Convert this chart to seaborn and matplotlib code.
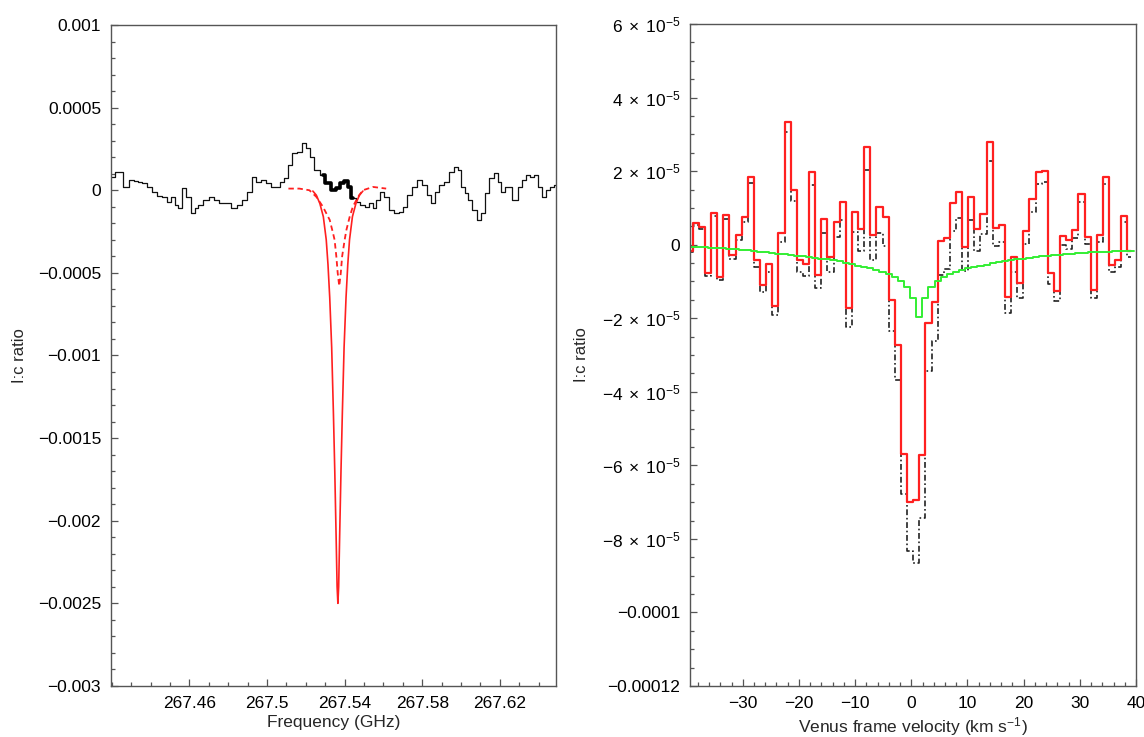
import numpy as np
import pandas as pd
import matplotlib
matplotlib.use("Agg")
import matplotlib.pyplot as plt
import seaborn as sns
from matplotlib.ticker import FixedLocator, FixedFormatter, MultipleLocator

# ---- left panel: observed spectrum (frequency in GHz, line:continuum in units of 1e-4)
SPEC_GHZ = [
    267.4190, 267.4241, 267.4276, 267.4302, 267.4328, 267.4345, 267.4362, 267.4396,
    267.4422, 267.4448, 267.4473, 267.4499, 267.4513, 267.4534, 267.4547, 267.4576,
    267.4593, 267.4619, 267.4637, 267.4654, 267.4688, 267.4714, 267.4740, 267.4765,
    267.4791, 267.4834, 267.4859, 267.4885, 267.4911, 267.4932, 267.4954, 267.4979,
    267.5014, 267.5031, 267.5057, 267.5079, 267.5100, 267.5117, 267.5143, 267.5168,
    267.5194, 267.5211, 267.5229, 267.5254, 267.5288, 267.5314, 267.5340, 267.5366,
    267.5383, 267.5409, 267.5422, 267.5443, 267.5469, 267.5494, 267.5512, 267.5537,
    267.5554, 267.5571, 267.5589, 267.5615, 267.5640, 267.5666, 267.5692, 267.5709,
    267.5735, 267.5760, 267.5786, 267.5812, 267.5838, 267.5855, 267.5872, 267.5898,
    267.5924, 267.5949, 267.5975, 267.5992, 267.6009, 267.6027, 267.6044, 267.6070,
    267.6095, 267.6113, 267.6129, 267.6155, 267.6181, 267.6198, 267.6215, 267.6241,
    267.6284, 267.6301, 267.6327, 267.6344, 267.6370, 267.6387, 267.6404, 267.6430,
    267.6447, 267.6473, 267.6490,
]
SPEC_E4 = [
    0.82, 1.12, 0.22, 0.62, 0.58, 0.52, 0.42, 0.22,
    -0.09, -0.35, -0.43, -0.69, -0.43, -0.89, -1.09, 0.12,
    -0.39, -1.40, -1.09, -0.89, -0.59, -0.43, -0.59, -0.79,
    -0.79, -1.09, -0.89, -0.59, -0.09, 0.82, 0.52, 0.62,
    0.42, 0.22, 0.22, 0.52, 0.72, 1.53, 2.23, 2.33,
    2.84, 2.54, 2.03, 1.23, 0.92, 0.42, 0.02, 0.12,
    0.42, 0.58, 0.22, -0.49, -0.69, -0.89, -0.99, -0.79,
    -1.09, -0.59, -0.09, -0.39, -1.20, -1.40, -1.30, -0.99,
    -0.29, 0.22, 0.62, 0.32, -0.29, -0.79, -0.09, 0.32,
    0.52, 1.12, 1.43, 1.23, 0.22, -0.19, -0.59, -1.20,
    -1.80, -1.40, -0.19, 0.72, 1.02, 0.52, -0.09, 0.22,
    -0.59, 0.22, 0.62, 0.92, 0.82, 0.92, 0.22, -0.39,
    0.02, 0.22, 0.32,
]
# heavier stretch of the spectrum
THICK_LO, THICK_HI = 267.5262, 267.5452

# model line profiles (values in units of 1e-3)
MODEL_GHZ = [
    267.5236, 267.5254, 267.5272, 267.5290, 267.5305, 267.5314, 267.5323, 267.5333,
    267.5342, 267.5349, 267.5356, 267.5361, 267.5365, 267.5369, 267.5374, 267.5381,
    267.5388, 267.5397, 267.5407, 267.5416, 267.5425, 267.5440, 267.5458, 267.5476,
    267.5494,
]
MODEL_E3 = [
    -0.005, -0.03, -0.08, -0.16, -0.30, -0.45, -0.65, -0.95,
    -1.35, -1.70, -2.10, -2.40, -2.50, -2.40, -2.10, -1.70,
    -1.35, -0.95, -0.65, -0.45, -0.30, -0.16, -0.08, -0.03,
    -0.005,
]
WEAK_GHZ = [
    267.5110, 267.5166, 267.5218, 267.5254, 267.5288, 267.5323, 267.5340, 267.5348,
    267.5357, 267.5364, 267.5372, 267.5380, 267.5387, 267.5400, 267.5409, 267.5426,
    267.5442, 267.5460, 267.5475, 267.5494, 267.5546, 267.5614,
]
WEAK_E3 = [
    0.01, 0.01, 0.0, -0.04, -0.10, -0.18, -0.26, -0.30,
    -0.40, -0.50, -0.58, -0.50, -0.40, -0.30, -0.24, -0.16,
    -0.10, -0.06, -0.03, 0.0, 0.02, 0.01,
]

# ---- right panel: velocity channels (km/s), line:continuum in units of 1e-5
CHAN_START = -40.0
CHAN_WIDTH = 1.09
RED_E5 = [
    -0.16, 0.58, 0.49, -0.78, 0.85, -0.87, 0.81, -0.28, 0.26, 0.76,
    1.85, -0.43, -1.10, -0.52, -1.68, 0.31, 3.34, 1.49, -0.43, -0.52,
    1.98, -0.82, 0.70, -0.33, 0.63, 1.15, -1.73, 0.90, 0.42, 2.66,
    0.26, 1.03, 0.74, -1.50, -2.73, -5.69, -7.01, -6.94, -5.71, -2.12,
    -1.55, 0.11, 0.17, 1.12, 1.44, -0.05, 1.30, 0.42, 0.83, 2.80,
    0.46, 0.54, -1.43, -0.33, -1.05, 0.38, 1.23, 1.98, 2.01, -0.78,
    -1.25, 0.24, 0.13, 0.40, 1.38, 0.22, -1.23, 0.26, 1.83, -0.55,
    -0.43, 0.78, -0.16,
]
BLACK_E5 = [
    -0.21, 0.53, 0.43, -0.86, 0.77, -0.97, 0.71, -0.40, 0.13, 0.62,
    1.69, -0.61, -1.30, -0.73, -1.91, 0.06, 3.07, 1.20, -0.74, -0.85,
    1.63, -1.19, 0.31, -0.74, 0.20, 0.68, -2.24, 0.35, -0.17, 2.04,
    -0.41, 0.32, -0.03, -2.34, -3.67, -6.77, -8.32, -8.66, -7.43, -3.43,
    -2.63, -0.83, -0.67, 0.36, 0.73, -0.72, 0.68, -0.17, 0.28, 2.28,
    -0.03, 0.08, -1.87, -0.75, -1.44, 0.01, 0.88, 1.65, 1.70, -1.07,
    -1.53, -0.02, -0.12, 0.17, 1.16, 0.01, -1.44, 0.07, 1.64, -0.74,
    -0.61, 0.61, -0.33,
]
# fitted profile, sampled at the channel edges
GREEN_E5 = [
    -0.04, -0.05, -0.06, -0.07, -0.08, -0.09, -0.10, -0.11, -0.12, -0.14,
    -0.15, -0.17, -0.19, -0.20, -0.22, -0.24, -0.26, -0.28, -0.30, -0.32,
    -0.34, -0.36, -0.38, -0.40, -0.42, -0.45, -0.49, -0.53, -0.57, -0.61,
    -0.64, -0.69, -0.73, -0.80, -0.87, -1.00, -1.15, -1.46, -1.97, -1.46,
    -1.15, -1.00, -0.87, -0.80, -0.73, -0.69, -0.64, -0.61, -0.57, -0.54,
    -0.50, -0.47, -0.45, -0.43, -0.40, -0.38, -0.36, -0.34, -0.32, -0.30,
    -0.28, -0.27, -0.25, -0.24, -0.23, -0.22, -0.21, -0.20, -0.19, -0.19,
    -0.18, -0.17, -0.17, -0.16,
]

LEFT_YTICKS = [0.001, 0.0005, 0, -0.0005, -0.001, -0.0015, -0.002, -0.0025, -0.003]
LEFT_YLABELS = ["0.001", "0.0005", "0", "\u22120.0005", "\u22120.001", "\u22120.0015",
                "\u22120.002", "\u22120.0025", "\u22120.003"]
LEFT_XTICKS = [267.46, 267.50, 267.54, 267.58, 267.62]
LEFT_XLABELS = ["267.46", "267.5", "267.54", "267.58", "267.62"]
RIGHT_YTICKS = [6e-5, 4e-5, 2e-5, 0, -2e-5, -4e-5, -6e-5, -8e-5, -1e-4, -1.2e-4]
RIGHT_YLABELS = [r"$\mathregular{6\;\times\;10^{-5}}$", r"$\mathregular{4\;\times\;10^{-5}}$",
                 r"$\mathregular{2\;\times\;10^{-5}}$", "0",
                 r"$\mathregular{-2\;\times\;10^{-5}}$", r"$\mathregular{-4\;\times\;10^{-5}}$",
                 r"$\mathregular{-6\;\times\;10^{-5}}$", r"$\mathregular{-8\;\times\;10^{-5}}$",
                 "\u22120.0001", "\u22120.00012"]
RIGHT_XTICKS = [-30, -20, -10, 0, 10, 20, 30, 40]
RIGHT_XLABELS = ["\u221230", "\u221220", "\u221210", "0", "10", "20", "30", "40"]

RED = "#ff2020"
GREEN = "#33ee33"


def style_axes(ax):
    for side in ["left", "bottom", "right", "top"]:
        ax.spines[side].set_color("#555555")
        ax.spines[side].set_linewidth(1.0)
    ax.tick_params(which="both", direction="in", top=False, right=False,
                   colors="#555555", labelcolor="black", labelsize=12.5, width=0.9)
    ax.tick_params(which="major", length=5, pad=7)
    ax.tick_params(which="minor", length=3)
    ax.set_facecolor("white")


def main():
    sns.set_style("ticks")
    plt.rcParams["font.family"] = ["Liberation Sans", "DejaVu Sans"]
    plt.rcParams["mathtext.fontset"] = "custom"
    plt.rcParams["mathtext.rm"] = "Liberation Sans"
    plt.rcParams["mathtext.it"] = "Liberation Sans:italic"
    plt.rcParams["mathtext.bf"] = "Liberation Sans:bold"

    fig = plt.figure(figsize=(11.44, 7.37), dpi=100)
    ax1 = fig.add_axes([0.0968, 0.0692, 0.3893, 0.8969])
    ax2 = fig.add_axes([0.6031, 0.0692, 0.3899, 0.8982])

    # ---------------- left panel
    spec = pd.DataFrame({"freq": SPEC_GHZ, "ratio": np.array(SPEC_E4) * 1e-4})
    thick = spec[(spec["freq"] >= THICK_LO) & (spec["freq"] <= THICK_HI)]
    model = pd.DataFrame({"freq": MODEL_GHZ, "ratio": np.array(MODEL_E3) * 1e-3})
    weak = pd.DataFrame({"freq": WEAK_GHZ, "ratio": np.array(WEAK_E3) * 1e-3})

    sns.lineplot(data=spec, x="freq", y="ratio", ax=ax1, color="#111111", lw=0.9,
                 drawstyle="steps-mid", errorbar=None)
    sns.lineplot(data=thick, x="freq", y="ratio", ax=ax1, color="black", lw=2.6,
                 drawstyle="steps-mid", errorbar=None)
    sns.lineplot(data=weak, x="freq", y="ratio", ax=ax1, color=RED, lw=1.3,
                 linestyle=(0, (3, 2)), errorbar=None)
    sns.lineplot(data=model, x="freq", y="ratio", ax=ax1, color=RED, lw=1.2,
                 errorbar=None)

    ax1.set_xlim(267.4194, 267.6490)
    ax1.set_ylim(-0.003, 0.001)
    ax1.yaxis.set_major_locator(FixedLocator(LEFT_YTICKS))
    ax1.yaxis.set_major_formatter(FixedFormatter(LEFT_YLABELS))
    ax1.yaxis.set_minor_locator(MultipleLocator(0.0001))
    ax1.xaxis.set_major_locator(FixedLocator(LEFT_XTICKS))
    ax1.xaxis.set_major_formatter(FixedFormatter(LEFT_XLABELS))
    ax1.xaxis.set_minor_locator(MultipleLocator(0.01))
    ax1.set_xlabel("Frequency (GHz)", fontsize=12.5, labelpad=3)
    ax1.set_ylabel("I:c ratio", fontsize=12, labelpad=8)
    style_axes(ax1)

    # ---------------- right panel
    edges = CHAN_START + CHAN_WIDTH * np.arange(len(RED_E5) + 1)
    centers = edges[:-1] + CHAN_WIDTH / 2
    chans = pd.DataFrame({"vel": centers,
                          "fit_removed": np.array(RED_E5) * 1e-5,
                          "raw": np.array(BLACK_E5) * 1e-5})
    fit = pd.DataFrame({"vel": edges, "ratio": np.array(GREEN_E5) * 1e-5})

    sns.lineplot(data=chans, x="vel", y="raw", ax=ax2, color="#222222", lw=1.2,
                 linestyle=(0, (3.5, 1.6, 1, 1.6)), drawstyle="steps-mid", errorbar=None)
    sns.lineplot(data=chans, x="vel", y="fit_removed", ax=ax2, color=RED, lw=1.6,
                 drawstyle="steps-mid", errorbar=None)
    sns.lineplot(data=fit, x="vel", y="ratio", ax=ax2, color=GREEN, lw=1.4,
                 drawstyle="steps-mid", errorbar=None)

    ax2.set_xlim(-39.4, 40.0)
    ax2.set_ylim(-1.2e-4, 6e-5)
    ax2.yaxis.set_major_locator(FixedLocator(RIGHT_YTICKS))
    ax2.yaxis.set_major_formatter(FixedFormatter(RIGHT_YLABELS))
    ax2.yaxis.set_minor_locator(MultipleLocator(5e-6))
    ax2.xaxis.set_major_locator(FixedLocator(RIGHT_XTICKS))
    ax2.xaxis.set_major_formatter(FixedFormatter(RIGHT_XLABELS))
    ax2.xaxis.set_minor_locator(MultipleLocator(2))
    ax2.set_xlabel(r"Venus frame velocity (km s$^{-1}$)", fontsize=12.5, labelpad=3)
    ax2.set_ylabel("I:c ratio", fontsize=12, labelpad=9)
    style_axes(ax2)

    fig.savefig("out.png", dpi=100)
    plt.close(fig)


if __name__ == "__main__":
    main()
